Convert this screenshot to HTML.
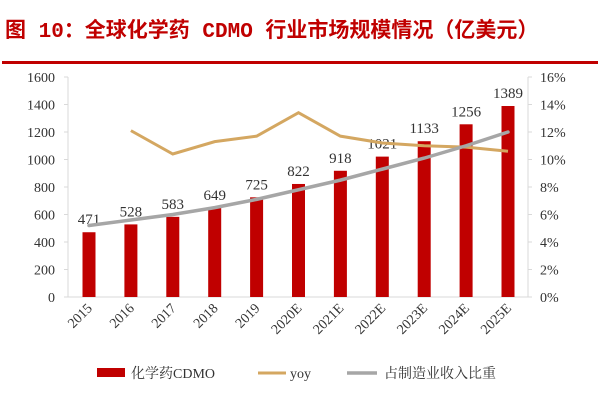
<!DOCTYPE html>
<html><head><meta charset="utf-8"><style>
body{margin:0;background:#fff;}
svg text{font-family:"Liberation Serif","Noto Serif CJK SC",serif;}
</style></head><body>
<svg width="600" height="400" id="c">
<text x="5" y="37" fill="#c00000" font-size="21" font-weight="bold" style="font-family:'Liberation Mono','Noto Sans CJK SC',monospace">图 10：全球化学药 CDMO 行业市场规模情况（亿美元）</text>
<rect x="2" y="61" width="596" height="3" fill="#c00000"/>
</svg>
<script>
const years=["2015","2016","2017","2018","2019","2020E","2021E","2022E","2023E","2024E","2025E"];
const market=[471,528,583,649,725,822,918,1021,1133,1256,1389];
const yoy=[null,12.1,10.4,11.3,11.7,13.4,11.7,11.2,11.0,10.9,10.6];
const share=[5.2,5.6,6.0,6.5,7.1,7.8,8.5,9.3,10.1,11.0,12.0];
const leftTicks=[0,200,400,600,800,1000,1200,1400,1600];
const rightTicks=[0,2,4,6,8,10,12,14,16];
const svg=document.getElementById('c');const NS="http://www.w3.org/2000/svg";
function mk(t,a,p){const e=document.createElementNS(NS,t);for(const k in a)e.setAttribute(k,a[k]);(p||svg).appendChild(e);return e;}
const L=68,R=528,T=77,B=297;
const xs=i=>89+i*(508-89)/(years.length-1);
const yl=v=>B-v/1600*(B-T);
const yr=v=>B-v/16*(B-T);
let e;
e=mk('line',{x1:L,y1:T,x2:L,y2:B,stroke:'#d9d9d9'});


e=mk('line',{x1:R,y1:T,x2:R,y2:B,stroke:'#d9d9d9'});


e=mk('line',{x1:L,y1:B,x2:R,y2:B,stroke:'#d9d9d9'});


leftTicks.forEach(v=>{mk('line',{x1:L-4,y1:yl(v),x2:L,y2:yl(v),stroke:'#d9d9d9'});
e=mk('text',{x:L-13,y:yl(v)+5,'text-anchor':'end','font-size':14,fill:'#333'});e.textContent=v;

});
rightTicks.forEach(v=>{mk('line',{x1:R,y1:yr(v),x2:R+4,y2:yr(v),stroke:'#d9d9d9'});
e=mk('text',{x:R+12,y:yr(v)+5,'font-size':14,fill:'#333'});e.textContent=v+'%';

});
years.forEach((y,i)=>{
e=mk('rect',{x:xs(i)-6.5,y:yl(market[i]),width:13,height:B-yl(market[i]),fill:'#c00000'});


e=mk('text',{x:xs(i),y:yl(market[i])-8,'text-anchor':'middle','font-size':15,fill:'#333'});e.textContent=market[i];


e=mk('text',{x:0,y:0,'text-anchor':'end','font-size':14,fill:'#333',transform:`translate(${xs(i)+4},${B+12}) rotate(-45)`});e.textContent=y;


});
let p1=yoy.map((v,i)=>v==null?null:xs(i)+','+yr(v)).filter(Boolean).join(' ');
e=mk('polyline',{points:p1,fill:'none',stroke:'#d4a761','stroke-width':3});


let p2=share.map((v,i)=>xs(i)+','+yr(v)).join(' ');
e=mk('polyline',{points:p2,fill:'none',stroke:'#a6a6a6','stroke-width':3.5,'stroke-linecap':'round'});


const lg=mk('g',{});


mk('rect',{x:97,y:368,width:28,height:9,fill:'#c00000'},lg);
e=mk('text',{x:131,y:378,'font-size':14,fill:'#333'},lg);e.textContent='化学药CDMO';
mk('line',{x1:258,y1:373,x2:286,y2:373,stroke:'#d4a761','stroke-width':3},lg);
e=mk('text',{x:290,y:378,'font-size':14,fill:'#333'},lg);e.textContent='yoy';
mk('line',{x1:347,y1:373,x2:377,y2:373,stroke:'#a6a6a6','stroke-width':3.5},lg);
e=mk('text',{x:384,y:378,'font-size':14,fill:'#333'},lg);e.textContent='占制造业收入比重';
</script>
</body></html>
